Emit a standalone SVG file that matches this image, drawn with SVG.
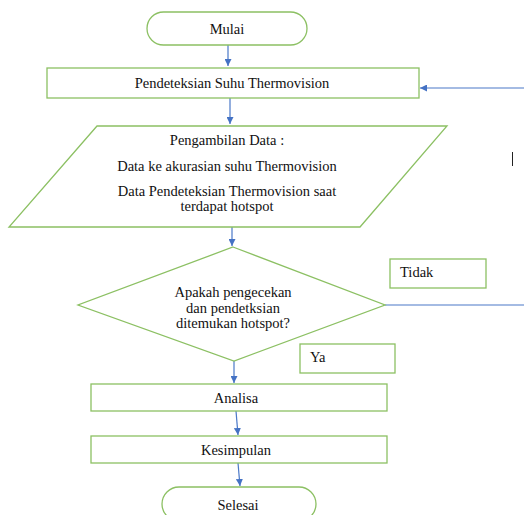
<svg xmlns="http://www.w3.org/2000/svg" width="524" height="515" viewBox="0 0 524 515">
<defs>
<marker id="ah" viewBox="0 0 10 10" refX="10" refY="5" markerWidth="7" markerHeight="7" markerUnits="userSpaceOnUse" orient="auto">
<path d="M0,0 L10,5 L0,10 z" fill="#4472c4"/>
</marker>
</defs>
<style>
.s{fill:#fff;stroke:#8cc063;stroke-width:1.3}
.t{font-family:"Liberation Serif","Times New Roman","DejaVu Serif",serif;font-size:14.5px;fill:#111;text-anchor:middle}
.l{text-anchor:start}
.c{stroke:#4a78c8;stroke-width:1.2;fill:none}
</style>
<rect width="524" height="515" fill="#fff"/>
<g id="connectors">
<line class="c" x1="228" y1="42" x2="228" y2="66" marker-end="url(#ah)"/>
<line class="c" x1="230" y1="98" x2="230" y2="124" marker-end="url(#ah)"/>
<line class="c" x1="524" y1="88" x2="420" y2="88" marker-end="url(#ah)"/>
<line class="c" x1="232" y1="227" x2="232" y2="246" marker-end="url(#ah)"/>
<line class="c" x1="385" y1="305" x2="524" y2="305"/>
<line class="c" x1="234" y1="361" x2="234" y2="383" marker-end="url(#ah)"/>
<line class="c" x1="236" y1="411" x2="238" y2="435" marker-end="url(#ah)"/>
<line class="c" x1="238" y1="463" x2="240" y2="486" marker-end="url(#ah)"/>
</g>
<g id="mulai">
<rect class="s" x="147" y="12" width="160" height="33" rx="16.5"/>
<text class="t" x="227" y="34">Mulai</text>
</g>
<g id="pendeteksian">
<rect class="s" x="47" y="68" width="372" height="30"/>
<text class="t" x="232" y="88">Pendeteksian Suhu Thermovision</text>
</g>
<g id="pengambilan">
<polygon class="s" points="97,126 447,126 360,227 9,227"/>
<text class="t" x="227" y="145">Pengambilan Data :</text>
<text class="t" x="227" y="171">Data ke akurasian suhu Thermovision</text>
<text class="t" x="227" y="196">Data Pendeteksian Thermovision saat</text>
<text class="t" x="227" y="211">terdapat hotspot</text>
</g>
<line x1="512.5" y1="152" x2="512.5" y2="166" stroke="#222" stroke-width="1"/>
<g id="keputusan">
<polygon class="s" points="233,247 385,305 234,361 78,305"/>
<text class="t" x="233" y="297">Apakah pengecekan</text>
<text class="t" x="233" y="313">dan pendetksian</text>
<text class="t" x="233" y="328">ditemukan hotspot?</text>
</g>
<g id="tidak">
<rect class="s" x="390" y="259" width="96" height="29"/>
<text class="t l" x="400" y="277">Tidak</text>
</g>
<g id="ya">
<rect class="s" x="300" y="344" width="95" height="29"/>
<text class="t l" x="310" y="362">Ya</text>
</g>
<g id="analisa">
<rect class="s" x="91" y="384" width="296" height="27"/>
<text class="t" x="236" y="403">Analisa</text>
</g>
<g id="kesimpulan">
<rect class="s" x="91" y="436" width="296" height="27"/>
<text class="t" x="236" y="455">Kesimpulan</text>
</g>
<g id="selesai">
<rect class="s" x="162" y="487" width="154" height="34" rx="17"/>
<text class="t" x="238" y="510">Selesai</text>
</g>
</svg>
